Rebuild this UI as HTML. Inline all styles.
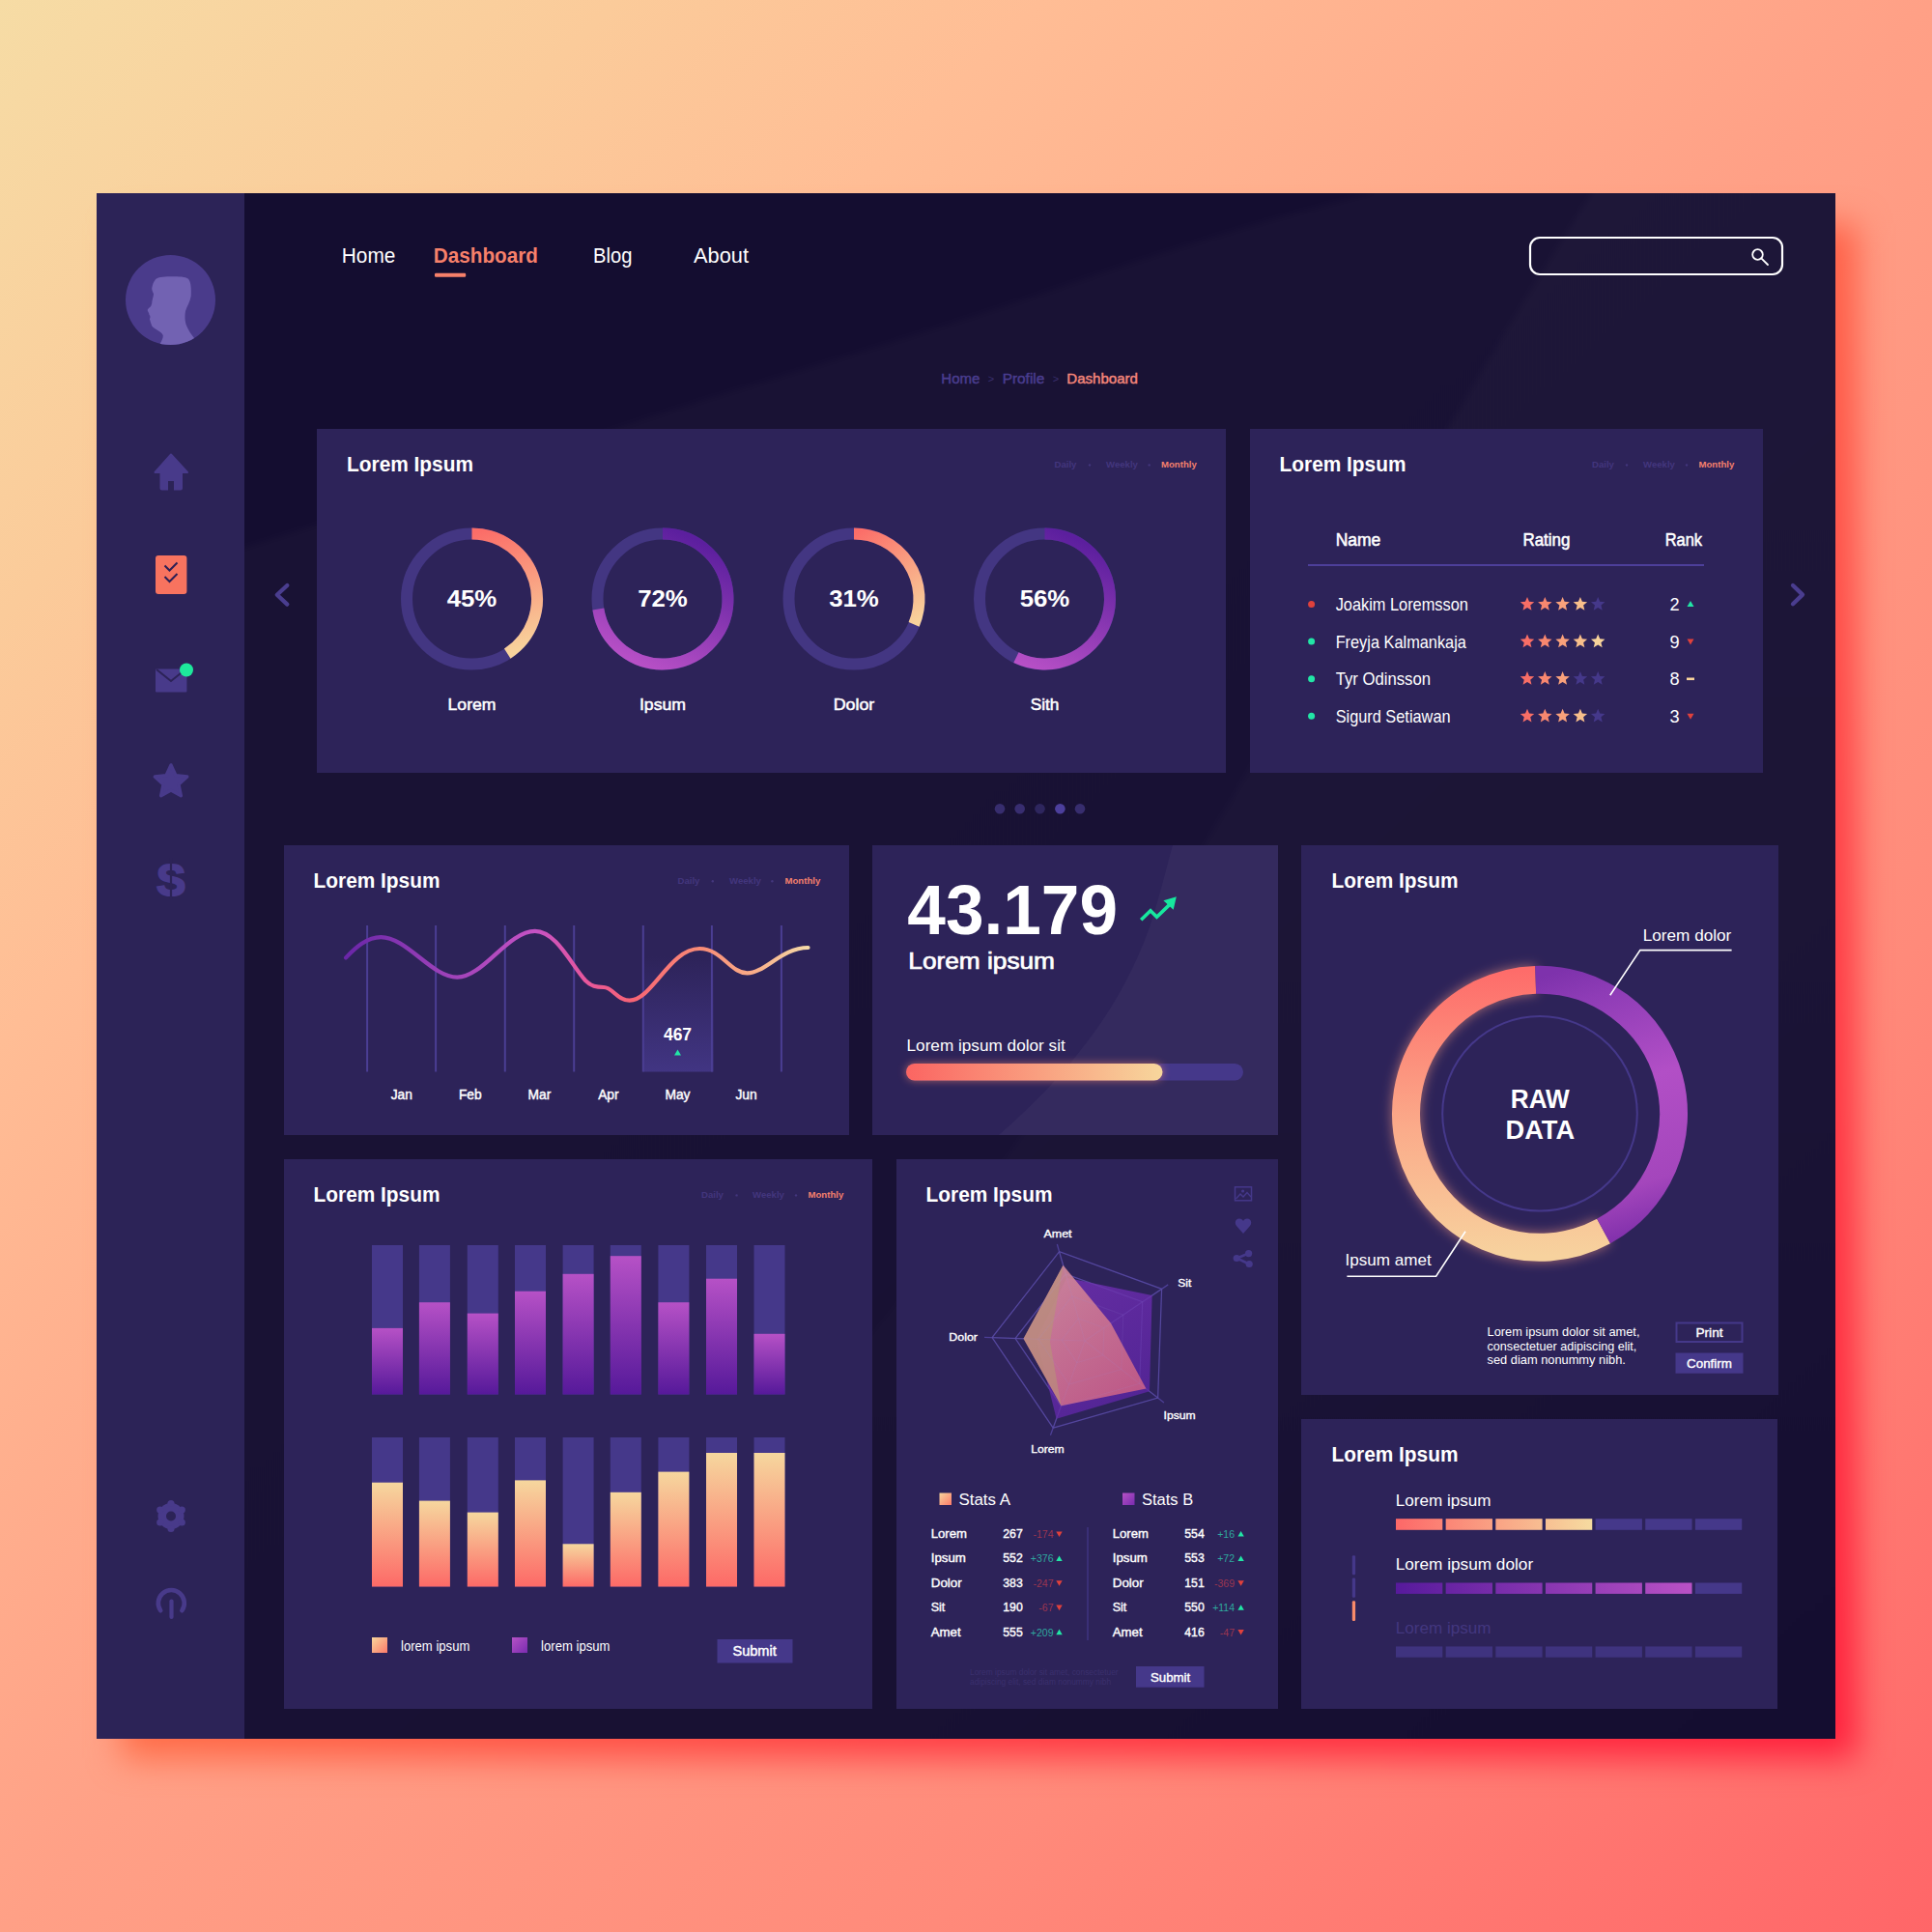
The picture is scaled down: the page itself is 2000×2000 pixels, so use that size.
<!DOCTYPE html>
<html><head><meta charset="utf-8">
<style>
html,body{margin:0;padding:0;}
body{width:2000px;height:2000px;overflow:hidden;position:relative;
background:linear-gradient(135deg,#f6dca5 0%,#fbcb9a 16%,#ffbd95 27%,#ffa086 50%,#ff8a7a 74%,#ff6668 100%);
font-family:"Liberation Sans",sans-serif;}
#shadow{position:absolute;left:126px;top:232px;width:1796px;height:1588px;background:linear-gradient(135deg,#ff9050 0%,#ff7048 45%,#ff4046 70%,#ff1e3c 100%);filter:blur(17px);}
#dash{position:absolute;left:100px;top:200px;width:1800px;height:1600px;background:#140d30;}
svg{position:absolute;left:0;top:0;}
text{font-family:"Liberation Sans",sans-serif;}
</style></head>
<body>
<div id="shadow"></div>
<div id="dash"></div>
<svg width="2000" height="2000" viewBox="0 0 2000 2000">
<defs>
<linearGradient id="gBarP" x1="0" y1="0" x2="0" y2="1"><stop offset="0" stop-color="#b651c6"/><stop offset="1" stop-color="#56199a"/></linearGradient>
<linearGradient id="gBarS" x1="0" y1="0" x2="0" y2="1"><stop offset="0" stop-color="#f6d79e"/><stop offset="1" stop-color="#fd6a67"/></linearGradient>
<linearGradient id="gProg" x1="0" y1="0" x2="1" y2="0"><stop offset="0" stop-color="#fb6562"/><stop offset="1" stop-color="#f7d69c"/></linearGradient>
<linearGradient id="gLegS" x1="0" y1="0" x2="1" y2="1"><stop offset="0" stop-color="#f7d69c"/><stop offset="1" stop-color="#fc7a6a"/></linearGradient>
<linearGradient id="gLegP" x1="0" y1="0" x2="1" y2="1"><stop offset="0" stop-color="#b652c6"/><stop offset="1" stop-color="#7a2cb0"/></linearGradient>
<linearGradient id="gHi" x1="0" y1="0" x2="0" y2="1"><stop offset="0" stop-color="#45388a" stop-opacity="0"/><stop offset="1" stop-color="#45388a" stop-opacity="0.85"/></linearGradient>
<linearGradient id="gLine" gradientUnits="userSpaceOnUse" x1="358" y1="0" x2="837" y2="0"><stop offset="0" stop-color="#6a26a8"/><stop offset="0.2" stop-color="#9a40b8"/><stop offset="0.41" stop-color="#c552c4"/><stop offset="0.52" stop-color="#e8579c"/><stop offset="0.62" stop-color="#f76474"/><stop offset="0.76" stop-color="#f98a76"/><stop offset="0.88" stop-color="#f9ac88"/><stop offset="1" stop-color="#f5dba8"/></linearGradient>
<filter id="glow" x="-20%" y="-50%" width="140%" height="200%"><feGaussianBlur stdDeviation="4"/></filter>
<filter id="glow2" x="-30%" y="-30%" width="160%" height="160%"><feGaussianBlur stdDeviation="6"/></filter>
<clipPath id="avClip"><circle cx="176.5" cy="310.5" r="46.5"/></clipPath>
</defs>
<rect x="253" y="200" width="1647" height="1600" fill="#140d30"/>
<rect x="100" y="200" width="153" height="1600" fill="#2c2357"/>
<linearGradient id="gOvA" gradientUnits="userSpaceOnUse" x1="900" y1="700" x2="1900" y2="1800"><stop offset="0" stop-color="#ffffff" stop-opacity="0.02"/><stop offset="0.55" stop-color="#ffffff" stop-opacity="0.016"/><stop offset="1" stop-color="#ffffff" stop-opacity="0"/></linearGradient>
<filter id="ovb" x="-10%" y="-10%" width="120%" height="120%"><feGaussianBlur stdDeviation="3"/></filter>
<clipPath id="mainClip"><rect x="253" y="200" width="1647" height="1600"/></clipPath>
<g clip-path="url(#mainClip)"><path filter="url(#ovb)" d="M1420 120 L2000 120 L2000 1900 L150 1900 L150 600 L253 567 C450 505 560 470 679 430 C820 385 960 345 1090 300 C1220 255 1320 225 1420 200Z" fill="url(#gOvA)"/>
<linearGradient id="gOv" gradientUnits="userSpaceOnUse" x1="0" y1="200" x2="0" y2="1800"><stop offset="0" stop-color="#ffffff" stop-opacity="0.022"/><stop offset="0.6" stop-color="#ffffff" stop-opacity="0.014"/><stop offset="1" stop-color="#ffffff" stop-opacity="0"/></linearGradient>
<path filter="url(#ovb)" d="M1700 120 L2000 120 L2000 1900 L480 1900 L560 1800 C760 1560 960 1320 1090 1130 C1260 870 1480 460 1648 200Z" fill="url(#gOv)"/></g>
<circle cx="176.5" cy="310.5" r="46.5" fill="#4a3b8b"/>
<path clip-path="url(#avClip)" fill="#7262b2" d="M160.5 289.9 C162 287 170 286 180 286.3 C188 286.3 194 287 195.5 289.5 C198 293 198 300 197.7 306.4 C197 312 193.6 316.8 192 322 C191 328 191.5 333 193 337 C195 342 198 346 201 350 L205 362 L163 362 L165.6 356.1 C168 352 169 349 168.7 347 C168 345 165 343 162.5 341.6 C159 339 157 338 156.9 336.4 C156 334 155.5 332 154.9 330.2 C155.5 329 155.5 328 155.3 327.1 C154.6 326 154 325 154.2 324 C153.5 323 152.5 321.5 152.8 320.5 C154 319 156 317.5 156.3 316.8 C157 315 157.5 313 157.3 312.6 C158 309 159 306 159 304.3 C158 302 157 300 157.3 298.1 C158 294 159 292 160.5 289.9 Z"/>
<path fill="#483a8a" stroke="#483a8a" stroke-width="2" stroke-linejoin="round" d="M160.5 489 L177 470.5 L194 489 Z"/>
<path fill="#483a8a" d="M165.5 484 L189 484 L189 505.5 Q189 507.5 187 507.5 L180 507.5 L180 498 L174 498 L174 507.5 L167.5 507.5 Q165.5 507.5 165.5 505.5 Z"/>
<rect x="161" y="575" width="32.4" height="40" rx="3" fill="#f8735f"/>
<path d="M170.5 585.5 L175.5 590.5 L183.5 582.5 M170.5 597 L175.5 602 L183.5 594" fill="none" stroke="#2b1f55" stroke-width="2"/>
<rect x="161" y="692.5" width="32.4" height="24" rx="1" fill="#483a8a"/>
<path d="M162 693 L177 705 L192 693" fill="none" stroke="#2c2357" stroke-width="2"/>
<circle cx="193" cy="693.5" r="7" fill="#1ee89c"/>
<polygon fill="#483a8a" points="177,791.9 181.94,802.7 193.74,804.06 184.99,812.1 187.35,823.74 177,817.9 166.65,823.74 169.01,812.1 160.26,804.06 172.06,802.7" stroke="#483a8a" stroke-width="3.4" stroke-linejoin="round"/>
<text x="177" y="926.5" font-size="46" font-weight="700" fill="#483a8a" stroke="#483a8a" stroke-width="2" text-anchor="middle">S</text>
<line x1="177" y1="888" x2="177" y2="931" stroke="#2c2357" stroke-width="2.2"/>
<g fill="#483a8a"><circle cx="177" cy="1569.5" r="13.5"/><circle cx="177" cy="1556.5" r="3.6"/><circle cx="188.26" cy="1563" r="3.6"/><circle cx="188.26" cy="1576" r="3.6"/><circle cx="177" cy="1582.5" r="3.6"/><circle cx="165.74" cy="1576" r="3.6"/><circle cx="165.74" cy="1563" r="3.6"/></g>
<circle cx="177" cy="1569.5" r="5" fill="#2c2357"/>
<path d="M166.24 1667.24 A13.5 13.5 0 1 1 188.36 1667.24" fill="none" stroke="#483a8a" stroke-width="4.6" stroke-linecap="round"/>
<line x1="177.5" y1="1657.5" x2="177.5" y2="1674" stroke="#483a8a" stroke-width="4.2" stroke-linecap="round"/>
<text x="353.77" y="271.5" font-size="21.5" fill="#ffffff" font-weight="400" text-anchor="start" textLength="55.56" lengthAdjust="spacingAndGlyphs" >Home</text>
<text x="448.87" y="271.5" font-size="21.5" fill="#f7806a" font-weight="700" text-anchor="start" textLength="107.96" lengthAdjust="spacingAndGlyphs" >Dashboard</text>
<text x="614.07" y="271.5" font-size="21.5" fill="#ffffff" font-weight="400" text-anchor="start" textLength="40.36" lengthAdjust="spacingAndGlyphs" >Blog</text>
<text x="718.07" y="271.5" font-size="21.5" fill="#ffffff" font-weight="400" text-anchor="start" textLength="56.96" lengthAdjust="spacingAndGlyphs" >About</text>
<rect x="450" y="282.8" width="32.2" height="4" rx="1.2" fill="#f7806a"/>
<rect x="1584" y="246" width="261" height="38" rx="10" fill="none" stroke="#ffffff" stroke-width="2.2"/>
<circle cx="1819.5" cy="263.5" r="5.3" fill="none" stroke="#fff" stroke-width="1.8"/>
<line x1="1823.3" y1="267.3" x2="1830" y2="274" stroke="#fff" stroke-width="1.8" stroke-linecap="round"/>
<text x="974.3" y="397" font-size="15" fill="#4a3d8f" font-weight="400" text-anchor="start" textLength="40" lengthAdjust="spacingAndGlyphs" stroke="#4a3d8f" stroke-width="0.45" >Home</text>
<text x="1026" y="396" font-size="11" fill="#3a2f6e" font-weight="400" text-anchor="middle" >&gt;</text>
<text x="1037.7" y="397" font-size="15" fill="#4a3d8f" font-weight="400" text-anchor="start" textLength="43.6" lengthAdjust="spacingAndGlyphs" stroke="#4a3d8f" stroke-width="0.45" >Profile</text>
<text x="1093" y="396" font-size="11" fill="#3a2f6e" font-weight="400" text-anchor="middle" >&gt;</text>
<text x="1104.3" y="397" font-size="15" fill="#f4867a" font-weight="400" text-anchor="start" textLength="73.7" lengthAdjust="spacingAndGlyphs" stroke="#f4867a" stroke-width="0.45" >Dashboard</text>
<rect x="328" y="444" width="941" height="356" fill="#2d2359"/>
<rect x="1294" y="444" width="531" height="356" fill="#2d2359"/>
<rect x="294" y="875" width="585" height="300" fill="#2d2359"/>
<rect x="903" y="875" width="420" height="300" fill="#2d2359"/>
<rect x="1347" y="875" width="494" height="569" fill="#2d2359"/>
<rect x="294" y="1200" width="609" height="569" fill="#2d2359"/>
<rect x="928" y="1200" width="395" height="569" fill="#2d2359"/>
<rect x="1347" y="1469" width="493" height="300" fill="#2d2359"/>
<path d="M1214 875 L1323 875 L1323 1175 L1034 1175 C1120 1100 1165 1030 1190 960 C1200 930 1207 900 1214 875Z" fill="#ffffff" fill-opacity="0.035"/>
<text x="359.07" y="488" font-size="21.5" fill="#ffffff" font-weight="700" text-anchor="start" textLength="130.86" lengthAdjust="spacingAndGlyphs" >Lorem Ipsum</text>
<text x="1324.57" y="488" font-size="21.5" fill="#ffffff" font-weight="700" text-anchor="start" textLength="130.86" lengthAdjust="spacingAndGlyphs" >Lorem Ipsum</text>
<text x="324.57" y="918.5" font-size="21.5" fill="#ffffff" font-weight="700" text-anchor="start" textLength="130.86" lengthAdjust="spacingAndGlyphs" >Lorem Ipsum</text>
<text x="1378.57" y="919" font-size="21.5" fill="#ffffff" font-weight="700" text-anchor="start" textLength="130.86" lengthAdjust="spacingAndGlyphs" >Lorem Ipsum</text>
<text x="324.57" y="1244" font-size="21.5" fill="#ffffff" font-weight="700" text-anchor="start" textLength="130.86" lengthAdjust="spacingAndGlyphs" >Lorem Ipsum</text>
<text x="958.57" y="1243.5" font-size="21.5" fill="#ffffff" font-weight="700" text-anchor="start" textLength="130.86" lengthAdjust="spacingAndGlyphs" >Lorem Ipsum</text>
<text x="1378.57" y="1512.5" font-size="21.5" fill="#ffffff" font-weight="700" text-anchor="start" textLength="130.86" lengthAdjust="spacingAndGlyphs" >Lorem Ipsum</text>
<text x="1091.5" y="484.4" font-size="9.6" fill="#43367d" font-weight="700" text-anchor="start" >Daily</text>
<text x="1145" y="484.4" font-size="9.6" fill="#43367d" font-weight="700" text-anchor="start" >Weekly</text>
<text x="1202" y="484.4" font-size="9.6" fill="#f4806d" font-weight="700" text-anchor="start" >Monthly</text>
<circle cx="1128" cy="481.4" r="1.2" fill="#43367d"/><circle cx="1189.7" cy="481.4" r="1.2" fill="#43367d"/>
<text x="1648" y="484.4" font-size="9.6" fill="#43367d" font-weight="700" text-anchor="start" >Daily</text>
<text x="1701" y="484.4" font-size="9.6" fill="#43367d" font-weight="700" text-anchor="start" >Weekly</text>
<text x="1758.5" y="484.4" font-size="9.6" fill="#f4806d" font-weight="700" text-anchor="start" >Monthly</text>
<circle cx="1684" cy="481.4" r="1.2" fill="#43367d"/><circle cx="1746" cy="481.4" r="1.2" fill="#43367d"/>
<text x="701.5" y="915.2" font-size="9.6" fill="#43367d" font-weight="700" text-anchor="start" >Daily</text>
<text x="755" y="915.2" font-size="9.6" fill="#43367d" font-weight="700" text-anchor="start" >Weekly</text>
<text x="812.5" y="915.2" font-size="9.6" fill="#f4806d" font-weight="700" text-anchor="start" >Monthly</text>
<circle cx="737.8" cy="912.2" r="1.2" fill="#43367d"/><circle cx="799.4" cy="912.2" r="1.2" fill="#43367d"/>
<text x="726" y="1240.4" font-size="9.6" fill="#43367d" font-weight="700" text-anchor="start" >Daily</text>
<text x="779" y="1240.4" font-size="9.6" fill="#43367d" font-weight="700" text-anchor="start" >Weekly</text>
<text x="836.5" y="1240.4" font-size="9.6" fill="#f4806d" font-weight="700" text-anchor="start" >Monthly</text>
<circle cx="762.6" cy="1237.4" r="1.2" fill="#43367d"/><circle cx="824" cy="1237.4" r="1.2" fill="#43367d"/>
<circle cx="488.5" cy="620" r="67.5" fill="none" stroke="#433682" stroke-width="12"/>
<linearGradient id="gd0" gradientUnits="userSpaceOnUse" x1="488.5" y1="552.5" x2="525.26" y2="676.61"><stop offset="0" stop-color="#fb6d68"/><stop offset="1" stop-color="#f8d39c"/></linearGradient>
<path d="M488.5 552.5 A67.5 67.5 0 0 1 525.26 676.61" fill="none" stroke="url(#gd0)" stroke-width="12"/>
<text x="488.5" y="628" font-size="24.7" fill="#ffffff" font-weight="700" text-anchor="middle" textLength="51.69" lengthAdjust="spacingAndGlyphs" >45%</text>
<text x="488.5" y="735" font-size="17.4" fill="#ffffff" font-weight="400" text-anchor="middle" textLength="49.9" lengthAdjust="spacingAndGlyphs" stroke="#ffffff" stroke-width="0.52" >Lorem</text>
<circle cx="686" cy="620" r="67.5" fill="none" stroke="#433682" stroke-width="12"/>
<linearGradient id="gd1" gradientUnits="userSpaceOnUse" x1="706" y1="552.5" x2="646" y2="687.5"><stop offset="0" stop-color="#5c1f9e"/><stop offset="1" stop-color="#bb52c8"/></linearGradient>
<path d="M686 552.5 A67.5 67.5 0 1 1 619.33 630.56" fill="none" stroke="url(#gd1)" stroke-width="12"/>
<text x="686" y="628" font-size="24.7" fill="#ffffff" font-weight="700" text-anchor="middle" textLength="51.69" lengthAdjust="spacingAndGlyphs" >72%</text>
<text x="686" y="735" font-size="17.4" fill="#ffffff" font-weight="400" text-anchor="middle" textLength="48.1" lengthAdjust="spacingAndGlyphs" stroke="#ffffff" stroke-width="0.52" >Ipsum</text>
<circle cx="884" cy="620" r="67.5" fill="none" stroke="#433682" stroke-width="12"/>
<linearGradient id="gd2" gradientUnits="userSpaceOnUse" x1="884" y1="552.5" x2="946.13" y2="646.37"><stop offset="0" stop-color="#fb6d68"/><stop offset="1" stop-color="#f8d39c"/></linearGradient>
<path d="M884 552.5 A67.5 67.5 0 0 1 946.13 646.37" fill="none" stroke="url(#gd2)" stroke-width="12"/>
<text x="884" y="628" font-size="24.7" fill="#ffffff" font-weight="700" text-anchor="middle" textLength="51.69" lengthAdjust="spacingAndGlyphs" >31%</text>
<text x="884" y="735" font-size="17.4" fill="#ffffff" font-weight="400" text-anchor="middle" textLength="42.6" lengthAdjust="spacingAndGlyphs" stroke="#ffffff" stroke-width="0.52" >Dolor</text>
<circle cx="1081.5" cy="620" r="67.5" fill="none" stroke="#433682" stroke-width="12"/>
<linearGradient id="gd3" gradientUnits="userSpaceOnUse" x1="1101.5" y1="552.5" x2="1041.5" y2="687.5"><stop offset="0" stop-color="#5c1f9e"/><stop offset="1" stop-color="#bb52c8"/></linearGradient>
<path d="M1081.5 552.5 A67.5 67.5 0 1 1 1051.91 680.67" fill="none" stroke="url(#gd3)" stroke-width="12"/>
<text x="1081.5" y="628" font-size="24.7" fill="#ffffff" font-weight="700" text-anchor="middle" textLength="51.69" lengthAdjust="spacingAndGlyphs" >56%</text>
<text x="1081.5" y="735" font-size="17.4" fill="#ffffff" font-weight="400" text-anchor="middle" textLength="29.7" lengthAdjust="spacingAndGlyphs" stroke="#ffffff" stroke-width="0.52" >Sith</text>
<text x="1382.64" y="564.8" font-size="18" fill="#ffffff" font-weight="400" text-anchor="start" textLength="46.72" lengthAdjust="spacingAndGlyphs" stroke="#ffffff" stroke-width="0.54" >Name</text>
<text x="1576.44" y="564.8" font-size="18" fill="#ffffff" font-weight="400" text-anchor="start" textLength="49.02" lengthAdjust="spacingAndGlyphs" stroke="#ffffff" stroke-width="0.54" >Rating</text>
<text x="1723.64" y="564.8" font-size="18" fill="#ffffff" font-weight="400" text-anchor="start" textLength="38.42" lengthAdjust="spacingAndGlyphs" stroke="#ffffff" stroke-width="0.54" >Rank</text>
<line x1="1354" y1="585" x2="1764" y2="585" stroke="#4d3f9a" stroke-width="2"/>
<circle cx="1357.6" cy="625.5" r="3.5" fill="#e0413c"/>
<text x="1382.64" y="632" font-size="18.2" fill="#ffffff" font-weight="400" text-anchor="start" textLength="137.23" lengthAdjust="spacingAndGlyphs" >Joakim Loremsson</text>
<polygon points="1581,617.9 1583,622.75 1588.23,623.15 1584.23,626.55 1585.47,631.65 1581,628.9 1576.53,631.65 1577.77,626.55 1573.77,623.15 1579,622.75" fill="#f86e66"/>
<polygon points="1599.3,617.9 1601.3,622.75 1606.53,623.15 1602.53,626.55 1603.77,631.65 1599.3,628.9 1594.83,631.65 1596.07,626.55 1592.07,623.15 1597.3,622.75" fill="#f8876f"/>
<polygon points="1617.6,617.9 1619.6,622.75 1624.83,623.15 1620.83,626.55 1622.07,631.65 1617.6,628.9 1613.13,631.65 1614.37,626.55 1610.37,623.15 1615.6,622.75" fill="#f9a17b"/>
<polygon points="1635.9,617.9 1637.9,622.75 1643.13,623.15 1639.13,626.55 1640.37,631.65 1635.9,628.9 1631.43,631.65 1632.67,626.55 1628.67,623.15 1633.9,622.75" fill="#f8bf8b"/>
<polygon points="1654.2,617.9 1656.2,622.75 1661.43,623.15 1657.43,626.55 1658.67,631.65 1654.2,628.9 1649.73,631.65 1650.97,626.55 1646.97,623.15 1652.2,622.75" fill="#45388a"/>
<text x="1728.4" y="632" font-size="18.2" fill="#ffffff" font-weight="400" text-anchor="start" >2</text>
<polygon points="1746.5,628 1753.5,628 1750,622" fill="#22e6a6"/>
<circle cx="1357.6" cy="664.1" r="3.5" fill="#22e6a6"/>
<text x="1382.64" y="670.6" font-size="18.2" fill="#ffffff" font-weight="400" text-anchor="start" textLength="135.23" lengthAdjust="spacingAndGlyphs" >Freyja Kalmankaja</text>
<polygon points="1581,656.5 1583,661.35 1588.23,661.75 1584.23,665.15 1585.47,670.25 1581,667.5 1576.53,670.25 1577.77,665.15 1573.77,661.75 1579,661.35" fill="#f86e66"/>
<polygon points="1599.3,656.5 1601.3,661.35 1606.53,661.75 1602.53,665.15 1603.77,670.25 1599.3,667.5 1594.83,670.25 1596.07,665.15 1592.07,661.75 1597.3,661.35" fill="#f8876f"/>
<polygon points="1617.6,656.5 1619.6,661.35 1624.83,661.75 1620.83,665.15 1622.07,670.25 1617.6,667.5 1613.13,670.25 1614.37,665.15 1610.37,661.75 1615.6,661.35" fill="#f9a17b"/>
<polygon points="1635.9,656.5 1637.9,661.35 1643.13,661.75 1639.13,665.15 1640.37,670.25 1635.9,667.5 1631.43,670.25 1632.67,665.15 1628.67,661.75 1633.9,661.35" fill="#f8bf8b"/>
<polygon points="1654.2,656.5 1656.2,661.35 1661.43,661.75 1657.43,665.15 1658.67,670.25 1654.2,667.5 1649.73,670.25 1650.97,665.15 1646.97,661.75 1652.2,661.35" fill="#f7d39b"/>
<text x="1728.4" y="670.6" font-size="18.2" fill="#ffffff" font-weight="400" text-anchor="start" >9</text>
<polygon points="1746.5,661.6 1753.5,661.6 1750,667.6" fill="#e0413c"/>
<circle cx="1357.6" cy="702.7" r="3.5" fill="#22e6a6"/>
<text x="1382.64" y="709.2" font-size="18.2" fill="#ffffff" font-weight="400" text-anchor="start" textLength="98.33" lengthAdjust="spacingAndGlyphs" >Tyr Odinsson</text>
<polygon points="1581,695.1 1583,699.95 1588.23,700.35 1584.23,703.75 1585.47,708.85 1581,706.1 1576.53,708.85 1577.77,703.75 1573.77,700.35 1579,699.95" fill="#f86e66"/>
<polygon points="1599.3,695.1 1601.3,699.95 1606.53,700.35 1602.53,703.75 1603.77,708.85 1599.3,706.1 1594.83,708.85 1596.07,703.75 1592.07,700.35 1597.3,699.95" fill="#f8876f"/>
<polygon points="1617.6,695.1 1619.6,699.95 1624.83,700.35 1620.83,703.75 1622.07,708.85 1617.6,706.1 1613.13,708.85 1614.37,703.75 1610.37,700.35 1615.6,699.95" fill="#f9a17b"/>
<polygon points="1635.9,695.1 1637.9,699.95 1643.13,700.35 1639.13,703.75 1640.37,708.85 1635.9,706.1 1631.43,708.85 1632.67,703.75 1628.67,700.35 1633.9,699.95" fill="#45388a"/>
<polygon points="1654.2,695.1 1656.2,699.95 1661.43,700.35 1657.43,703.75 1658.67,708.85 1654.2,706.1 1649.73,708.85 1650.97,703.75 1646.97,700.35 1652.2,699.95" fill="#45388a"/>
<text x="1728.4" y="709.2" font-size="18.2" fill="#ffffff" font-weight="400" text-anchor="start" >8</text>
<rect x="1746" y="701.5" width="8" height="2.6" fill="#f8d39b"/>
<circle cx="1357.6" cy="741.3" r="3.5" fill="#22e6a6"/>
<text x="1382.64" y="747.8" font-size="18.2" fill="#ffffff" font-weight="400" text-anchor="start" textLength="118.93" lengthAdjust="spacingAndGlyphs" >Sigurd Setiawan</text>
<polygon points="1581,733.7 1583,738.55 1588.23,738.95 1584.23,742.35 1585.47,747.45 1581,744.7 1576.53,747.45 1577.77,742.35 1573.77,738.95 1579,738.55" fill="#f86e66"/>
<polygon points="1599.3,733.7 1601.3,738.55 1606.53,738.95 1602.53,742.35 1603.77,747.45 1599.3,744.7 1594.83,747.45 1596.07,742.35 1592.07,738.95 1597.3,738.55" fill="#f8876f"/>
<polygon points="1617.6,733.7 1619.6,738.55 1624.83,738.95 1620.83,742.35 1622.07,747.45 1617.6,744.7 1613.13,747.45 1614.37,742.35 1610.37,738.95 1615.6,738.55" fill="#f9a17b"/>
<polygon points="1635.9,733.7 1637.9,738.55 1643.13,738.95 1639.13,742.35 1640.37,747.45 1635.9,744.7 1631.43,747.45 1632.67,742.35 1628.67,738.95 1633.9,738.55" fill="#f8bf8b"/>
<polygon points="1654.2,733.7 1656.2,738.55 1661.43,738.95 1657.43,742.35 1658.67,747.45 1654.2,744.7 1649.73,747.45 1650.97,742.35 1646.97,738.95 1652.2,738.55" fill="#45388a"/>
<text x="1728.4" y="747.8" font-size="18.2" fill="#ffffff" font-weight="400" text-anchor="start" >3</text>
<polygon points="1746.5,738.8 1753.5,738.8 1750,744.8" fill="#e0413c"/>
<path d="M297.3 606 L286.8 615.8 L297.3 625.6" fill="none" stroke="#4a3d8f" stroke-width="4.3" stroke-linecap="round" stroke-linejoin="round"/>
<path d="M1856 606 L1866 615.6 L1856 625.3" fill="none" stroke="#4a3d8f" stroke-width="4.3" stroke-linecap="round" stroke-linejoin="round"/>
<circle cx="1035" cy="837.2" r="5.3" fill="#372d6e"/>
<circle cx="1055.7" cy="837.2" r="5.3" fill="#382d70"/>
<circle cx="1076.5" cy="837.2" r="5.3" fill="#2e265e"/>
<circle cx="1097.4" cy="837.2" r="5.3" fill="#4c3f9c"/>
<circle cx="1118" cy="837.2" r="5.3" fill="#372d6e"/>
<rect x="665.5" y="990" width="73" height="119.5" fill="url(#gHi)"/>
<line x1="380.1" y1="958" x2="380.1" y2="1109.5" stroke="#4b3e93" stroke-width="2"/>
<line x1="451.1" y1="958" x2="451.1" y2="1109.5" stroke="#4b3e93" stroke-width="2"/>
<line x1="522.8" y1="958" x2="522.8" y2="1109.5" stroke="#4b3e93" stroke-width="2"/>
<line x1="594.2" y1="958" x2="594.2" y2="1109.5" stroke="#4b3e93" stroke-width="2"/>
<line x1="665.8" y1="958" x2="665.8" y2="1109.5" stroke="#4b3e93" stroke-width="2"/>
<line x1="736.9" y1="958" x2="736.9" y2="1109.5" stroke="#4b3e93" stroke-width="2"/>
<line x1="808.9" y1="958" x2="808.9" y2="1109.5" stroke="#4b3e93" stroke-width="2"/>
<path d="M358.1 991.4 C368 981 380 970.1 394.3 970.1 C421 970.1 447 1011.7 473.3 1011.7 C500 1011.7 526 963.9 553.8 963.9 C576 963.9 592 1000 606 1015 C612 1021 617 1022 625 1022 C634 1022 639 1035.7 651.7 1035.7 C675 1035.7 693 982 724.2 982 C747 982 756 1007.4 773.5 1007.4 C792 1007.4 809 981 836.5 981" fill="none" stroke="url(#gLine)" stroke-width="4.2" stroke-linecap="round"/>
<text x="701.5" y="1077.3" font-size="17.5" fill="#ffffff" font-weight="700" text-anchor="middle" textLength="29.1" lengthAdjust="spacingAndGlyphs" >467</text>
<polygon points="698,1092.5 705,1092.5 701.5,1086.5" fill="#22e6a6"/>
<text x="415.8" y="1138" font-size="13.8" fill="#ffffff" font-weight="400" text-anchor="middle" stroke="#ffffff" stroke-width="0.41" >Jan</text>
<text x="486.8" y="1138" font-size="13.8" fill="#ffffff" font-weight="400" text-anchor="middle" stroke="#ffffff" stroke-width="0.41" >Feb</text>
<text x="558.5" y="1138" font-size="13.8" fill="#ffffff" font-weight="400" text-anchor="middle" stroke="#ffffff" stroke-width="0.41" >Mar</text>
<text x="629.9" y="1138" font-size="13.8" fill="#ffffff" font-weight="400" text-anchor="middle" stroke="#ffffff" stroke-width="0.41" >Apr</text>
<text x="701.5" y="1138" font-size="13.8" fill="#ffffff" font-weight="400" text-anchor="middle" stroke="#ffffff" stroke-width="0.41" >May</text>
<text x="772.6" y="1138" font-size="13.8" fill="#ffffff" font-weight="400" text-anchor="middle" stroke="#ffffff" stroke-width="0.41" >Jun</text>
<text x="939.37" y="967.2" font-size="71.6" fill="#ffffff" font-weight="700" text-anchor="start" textLength="217.66" lengthAdjust="spacingAndGlyphs" >43.179</text>
<polyline points="1181.2,952.2 1191,942.8 1197.5,949.3 1210.6,936.6" fill="none" stroke="#17e89e" stroke-width="3.6"/>
<polygon points="1204.4,932.2 1217.8,928.3 1214.7,941.7" fill="#17e89e"/>
<text x="940.31" y="1002.6" font-size="24.4" fill="#ffffff" font-weight="400" text-anchor="start" textLength="151.68" lengthAdjust="spacingAndGlyphs" stroke="#ffffff" stroke-width="0.73" >Lorem ipsum</text>
<text x="938.56" y="1088.3" font-size="17" fill="#ffffff" font-weight="400" text-anchor="start" textLength="164.18" lengthAdjust="spacingAndGlyphs" >Lorem ipsum dolor sit</text>
<rect x="938" y="1101" width="349" height="17.5" rx="8.75" fill="#45388a"/>
<rect x="938" y="1101" width="265.5" height="17.5" rx="8.75" fill="#fb8a70" opacity="0.6" filter="url(#glow)"/>
<rect x="938" y="1101" width="265.5" height="17.5" rx="8.75" fill="url(#gProg)"/>
<rect x="385" y="1289" width="32" height="154.5" fill="#45388a"/>
<rect x="385" y="1374.9" width="32" height="68.6" fill="url(#gBarP)"/>
<rect x="433.9" y="1289" width="32" height="154.5" fill="#45388a"/>
<rect x="433.9" y="1348.2" width="32" height="95.3" fill="url(#gBarP)"/>
<rect x="483.8" y="1289" width="32" height="154.5" fill="#45388a"/>
<rect x="483.8" y="1359.6" width="32" height="83.9" fill="url(#gBarP)"/>
<rect x="533" y="1289" width="32" height="154.5" fill="#45388a"/>
<rect x="533" y="1336.7" width="32" height="106.8" fill="url(#gBarP)"/>
<rect x="582.6" y="1289" width="32" height="154.5" fill="#45388a"/>
<rect x="582.6" y="1318.8" width="32" height="124.7" fill="url(#gBarP)"/>
<rect x="631.8" y="1289" width="32" height="154.5" fill="#45388a"/>
<rect x="631.8" y="1300.2" width="32" height="143.3" fill="url(#gBarP)"/>
<rect x="681.4" y="1289" width="32" height="154.5" fill="#45388a"/>
<rect x="681.4" y="1348.2" width="32" height="95.3" fill="url(#gBarP)"/>
<rect x="731" y="1289" width="32" height="154.5" fill="#45388a"/>
<rect x="731" y="1323.7" width="32" height="119.8" fill="url(#gBarP)"/>
<rect x="780.5" y="1289" width="32" height="154.5" fill="#45388a"/>
<rect x="780.5" y="1380.8" width="32" height="62.7" fill="url(#gBarP)"/>
<rect x="385" y="1488" width="32" height="154.5" fill="#45388a"/>
<rect x="385" y="1534.7" width="32" height="107.8" fill="url(#gBarS)"/>
<rect x="433.9" y="1488" width="32" height="154.5" fill="#45388a"/>
<rect x="433.9" y="1553.6" width="32" height="88.9" fill="url(#gBarS)"/>
<rect x="483.8" y="1488" width="32" height="154.5" fill="#45388a"/>
<rect x="483.8" y="1565.6" width="32" height="76.9" fill="url(#gBarS)"/>
<rect x="533" y="1488" width="32" height="154.5" fill="#45388a"/>
<rect x="533" y="1532.4" width="32" height="110.1" fill="url(#gBarS)"/>
<rect x="582.6" y="1488" width="32" height="154.5" fill="#45388a"/>
<rect x="582.6" y="1598.3" width="32" height="44.2" fill="url(#gBarS)"/>
<rect x="631.8" y="1488" width="32" height="154.5" fill="#45388a"/>
<rect x="631.8" y="1544.8" width="32" height="97.7" fill="url(#gBarS)"/>
<rect x="681.4" y="1488" width="32" height="154.5" fill="#45388a"/>
<rect x="681.4" y="1523.6" width="32" height="118.9" fill="url(#gBarS)"/>
<rect x="731" y="1488" width="32" height="154.5" fill="#45388a"/>
<rect x="731" y="1504" width="32" height="138.5" fill="url(#gBarS)"/>
<rect x="780.5" y="1488" width="32" height="154.5" fill="#45388a"/>
<rect x="780.5" y="1504" width="32" height="138.5" fill="url(#gBarS)"/>
<rect x="385" y="1695" width="16" height="16" fill="url(#gLegS)"/>
<text x="415.02" y="1708.5" font-size="14" fill="#ffffff" font-weight="400" text-anchor="start" textLength="71.36" lengthAdjust="spacingAndGlyphs" >lorem ipsum</text>
<rect x="530" y="1695" width="16" height="16" fill="url(#gLegP)"/>
<text x="560.12" y="1708.5" font-size="14" fill="#ffffff" font-weight="400" text-anchor="start" textLength="71.36" lengthAdjust="spacingAndGlyphs" >lorem ipsum</text>
<rect x="742.5" y="1697" width="78" height="24.5" fill="#45388a"/>
<text x="781.1" y="1714" font-size="15" fill="#ffffff" font-weight="400" text-anchor="middle" textLength="45.3" lengthAdjust="spacingAndGlyphs" stroke="#ffffff" stroke-width="0.45" >Submit</text>
<polygon points="1096.54,1295.72 1202.59,1334.32 1198.65,1447.1 1090.17,1478.21 1027.06,1384.65" fill="none" stroke="#4d3f96" stroke-width="1.3"/>
<polygon points="1103.15,1318.79 1182.69,1347.74 1179.74,1432.33 1098.37,1455.66 1051.04,1385.49" fill="none" stroke="#4d3f96" stroke-width="1.3"/>
<line x1="1123" y1="1388" x2="1094.33" y2="1288.03" stroke="#4d3f96" stroke-width="1.3"/>
<line x1="1123" y1="1388" x2="1209.22" y2="1329.84" stroke="#4d3f96" stroke-width="1.3"/>
<line x1="1123" y1="1388" x2="1204.95" y2="1452.03" stroke="#4d3f96" stroke-width="1.3"/>
<line x1="1123" y1="1388" x2="1087.43" y2="1485.73" stroke="#4d3f96" stroke-width="1.3"/>
<line x1="1123" y1="1388" x2="1019.06" y2="1384.37" stroke="#4d3f96" stroke-width="1.3"/>
<linearGradient id="gRadP" gradientUnits="userSpaceOnUse" x1="1110" y1="1320" x2="1190" y2="1460"><stop offset="0" stop-color="#6a2eaa"/><stop offset="1" stop-color="#55249a"/></linearGradient>
<polygon points="1104.26,1322.63 1192.64,1341.03 1189.98,1440.33 1093.59,1468.81 1073.03,1386.26" fill="url(#gRadP)" fill-opacity="0.9"/>
<linearGradient id="gRad" gradientUnits="userSpaceOnUse" x1="1070" y1="1310" x2="1185" y2="1455"><stop offset="0" stop-color="#d48e9c"/><stop offset="1" stop-color="#c85a84"/></linearGradient>
<polygon points="1100.54,1309.66 1149.94,1369.83 1186.43,1437.56 1098.55,1455.19 1059.54,1385.78" fill="url(#gRad)" fill-opacity="0.9"/>
<polygon points="1100.54,1309.66 1059.54,1385.78 1098.55,1455.19 1087,1389" fill="#b89478" fill-opacity="0.6"/>
<polygon points="1096.54,1295.72 1202.59,1334.32 1198.65,1447.1 1090.17,1478.21 1027.06,1384.65" fill="none" stroke="#a090e0" stroke-opacity="0.1" stroke-width="1.1"/>
<polygon points="1103.15,1318.79 1182.69,1347.74 1179.74,1432.33 1098.37,1455.66 1051.04,1385.49" fill="none" stroke="#a090e0" stroke-opacity="0.1" stroke-width="1.1"/>
<polygon points="1109.77,1341.86 1162.79,1361.16 1160.82,1417.55 1106.58,1433.11 1075.03,1386.32" fill="none" stroke="#a090e0" stroke-opacity="0.1" stroke-width="1.1"/>
<polygon points="1116.38,1364.93 1142.9,1374.58 1141.91,1402.78 1114.79,1410.55 1099.01,1387.16" fill="none" stroke="#a090e0" stroke-opacity="0.1" stroke-width="1.1"/>
<line x1="1123" y1="1388" x2="1096.54" y2="1295.72" stroke="#a090e0" stroke-opacity="0.1" stroke-width="1.1"/>
<line x1="1123" y1="1388" x2="1202.59" y2="1334.32" stroke="#a090e0" stroke-opacity="0.1" stroke-width="1.1"/>
<line x1="1123" y1="1388" x2="1198.65" y2="1447.1" stroke="#a090e0" stroke-opacity="0.1" stroke-width="1.1"/>
<line x1="1123" y1="1388" x2="1090.17" y2="1478.21" stroke="#a090e0" stroke-opacity="0.1" stroke-width="1.1"/>
<line x1="1123" y1="1388" x2="1027.06" y2="1384.65" stroke="#a090e0" stroke-opacity="0.1" stroke-width="1.1"/>
<text x="1095" y="1281" font-size="11.5" fill="#ffffff" font-weight="400" text-anchor="middle" textLength="29.06" lengthAdjust="spacingAndGlyphs" stroke="#ffffff" stroke-width="0.35" >Amet</text>
<text x="1219.37" y="1331.7" font-size="11.5" fill="#ffffff" font-weight="400" text-anchor="start" textLength="13.96" lengthAdjust="spacingAndGlyphs" stroke="#ffffff" stroke-width="0.35" >Sit</text>
<text x="982.37" y="1387.8" font-size="11.5" fill="#ffffff" font-weight="400" text-anchor="start" textLength="29.56" lengthAdjust="spacingAndGlyphs" stroke="#ffffff" stroke-width="0.35" >Dolor</text>
<text x="1204.57" y="1468.7" font-size="11.5" fill="#ffffff" font-weight="400" text-anchor="start" textLength="33.06" lengthAdjust="spacingAndGlyphs" stroke="#ffffff" stroke-width="0.35" >Ipsum</text>
<text x="1084.5" y="1504" font-size="11.5" fill="#ffffff" font-weight="400" text-anchor="middle" textLength="34.56" lengthAdjust="spacingAndGlyphs" stroke="#ffffff" stroke-width="0.35" >Lorem</text>
<rect x="1278.5" y="1228.8" width="17" height="14" fill="none" stroke="#45388a" stroke-width="1.5"/>
<path d="M1279.5 1241 L1284 1236 L1287 1239 L1291 1234.5 L1295 1239" fill="none" stroke="#45388a" stroke-width="1.4"/>
<circle cx="1286.6" cy="1233" r="1.6" fill="#45388a"/>
<path fill="#45388a" d="M1287 1277 L1280 1269 C1277.5 1266 1279 1261.5 1283 1261.5 C1285 1261.5 1286.3 1262.7 1287 1264 C1287.7 1262.7 1289 1261.5 1291 1261.5 C1295 1261.5 1296.5 1266 1294 1269 Z"/>
<g stroke="#45388a" stroke-width="2.6" fill="#45388a"><line x1="1280.5" y1="1302.5" x2="1292.5" y2="1297.5"/><line x1="1280.5" y1="1302.5" x2="1293" y2="1308.5"/></g>
<g fill="#45388a"><circle cx="1292.6" cy="1297.6" r="3.6"/><circle cx="1280.2" cy="1302.5" r="3.6"/><circle cx="1293.2" cy="1308.5" r="3.6"/></g>
<rect x="972.5" y="1545.5" width="12.5" height="12.5" fill="url(#gLegS)"/>
<text x="992.45" y="1558" font-size="17.4" fill="#ffffff" font-weight="400" text-anchor="start" textLength="53.6" lengthAdjust="spacingAndGlyphs" >Stats A</text>
<rect x="1162" y="1545.5" width="12.5" height="12.5" fill="url(#gLegP)"/>
<text x="1182.05" y="1558" font-size="17.4" fill="#ffffff" font-weight="400" text-anchor="start" textLength="53.1" lengthAdjust="spacingAndGlyphs" >Stats B</text>
<line x1="1126" y1="1581" x2="1126" y2="1698" stroke="#3f3480" stroke-width="1.5"/>
<text x="963.75" y="1592" font-size="12.6" fill="#ffffff" font-weight="400" text-anchor="start" textLength="37.2" lengthAdjust="spacingAndGlyphs" stroke="#ffffff" stroke-width="0.38" >Lorem</text>
<text x="1038.25" y="1592" font-size="12.6" fill="#ffffff" font-weight="400" text-anchor="start" textLength="20.5" lengthAdjust="spacingAndGlyphs" stroke="#ffffff" stroke-width="0.38" >267</text>
<text x="1090.5" y="1592" font-size="10.5" fill="#9c3650" font-weight="400" text-anchor="end" >-174</text>
<polygon points="1093.3,1585.4 1099.7,1585.4 1096.5,1591" fill="#e0413c"/>
<text x="963.75" y="1617.4" font-size="12.6" fill="#ffffff" font-weight="400" text-anchor="start" textLength="36.2" lengthAdjust="spacingAndGlyphs" stroke="#ffffff" stroke-width="0.38" >Ipsum</text>
<text x="1038.25" y="1617.4" font-size="12.6" fill="#ffffff" font-weight="400" text-anchor="start" textLength="20.5" lengthAdjust="spacingAndGlyphs" stroke="#ffffff" stroke-width="0.38" >552</text>
<text x="1090.5" y="1617.4" font-size="10.5" fill="#2fa89e" font-weight="400" text-anchor="end" >+376</text>
<polygon points="1093.3,1616 1099.7,1616 1096.5,1610.4" fill="#22e6a6"/>
<text x="963.75" y="1642.8" font-size="12.6" fill="#ffffff" font-weight="400" text-anchor="start" textLength="32" lengthAdjust="spacingAndGlyphs" stroke="#ffffff" stroke-width="0.38" >Dolor</text>
<text x="1038.25" y="1642.8" font-size="12.6" fill="#ffffff" font-weight="400" text-anchor="start" textLength="20.5" lengthAdjust="spacingAndGlyphs" stroke="#ffffff" stroke-width="0.38" >383</text>
<text x="1090.5" y="1642.8" font-size="10.5" fill="#9c3650" font-weight="400" text-anchor="end" >-247</text>
<polygon points="1093.3,1636.2 1099.7,1636.2 1096.5,1641.8" fill="#e0413c"/>
<text x="963.75" y="1668.2" font-size="12.6" fill="#ffffff" font-weight="400" text-anchor="start" textLength="14.6" lengthAdjust="spacingAndGlyphs" stroke="#ffffff" stroke-width="0.38" >Sit</text>
<text x="1038.25" y="1668.2" font-size="12.6" fill="#ffffff" font-weight="400" text-anchor="start" textLength="20.5" lengthAdjust="spacingAndGlyphs" stroke="#ffffff" stroke-width="0.38" >190</text>
<text x="1090.5" y="1668.2" font-size="10.5" fill="#9c3650" font-weight="400" text-anchor="end" >-67</text>
<polygon points="1093.3,1661.6 1099.7,1661.6 1096.5,1667.2" fill="#e0413c"/>
<text x="963.75" y="1693.6" font-size="12.6" fill="#ffffff" font-weight="400" text-anchor="start" textLength="30.9" lengthAdjust="spacingAndGlyphs" stroke="#ffffff" stroke-width="0.38" >Amet</text>
<text x="1038.25" y="1693.6" font-size="12.6" fill="#ffffff" font-weight="400" text-anchor="start" textLength="20.5" lengthAdjust="spacingAndGlyphs" stroke="#ffffff" stroke-width="0.38" >555</text>
<text x="1090.5" y="1693.6" font-size="10.5" fill="#2fa89e" font-weight="400" text-anchor="end" >+209</text>
<polygon points="1093.3,1692.2 1099.7,1692.2 1096.5,1686.6" fill="#22e6a6"/>
<text x="1151.75" y="1592" font-size="12.6" fill="#ffffff" font-weight="400" text-anchor="start" textLength="37.2" lengthAdjust="spacingAndGlyphs" stroke="#ffffff" stroke-width="0.38" >Lorem</text>
<text x="1226.25" y="1592" font-size="12.6" fill="#ffffff" font-weight="400" text-anchor="start" textLength="20.5" lengthAdjust="spacingAndGlyphs" stroke="#ffffff" stroke-width="0.38" >554</text>
<text x="1278" y="1592" font-size="10.5" fill="#2fa89e" font-weight="400" text-anchor="end" >+16</text>
<polygon points="1281.4,1590.6 1287.8,1590.6 1284.6,1585" fill="#22e6a6"/>
<text x="1151.75" y="1617.4" font-size="12.6" fill="#ffffff" font-weight="400" text-anchor="start" textLength="36.2" lengthAdjust="spacingAndGlyphs" stroke="#ffffff" stroke-width="0.38" >Ipsum</text>
<text x="1226.25" y="1617.4" font-size="12.6" fill="#ffffff" font-weight="400" text-anchor="start" textLength="20.5" lengthAdjust="spacingAndGlyphs" stroke="#ffffff" stroke-width="0.38" >553</text>
<text x="1278" y="1617.4" font-size="10.5" fill="#2fa89e" font-weight="400" text-anchor="end" >+72</text>
<polygon points="1281.4,1616 1287.8,1616 1284.6,1610.4" fill="#22e6a6"/>
<text x="1151.75" y="1642.8" font-size="12.6" fill="#ffffff" font-weight="400" text-anchor="start" textLength="32" lengthAdjust="spacingAndGlyphs" stroke="#ffffff" stroke-width="0.38" >Dolor</text>
<text x="1226.25" y="1642.8" font-size="12.6" fill="#ffffff" font-weight="400" text-anchor="start" textLength="20.5" lengthAdjust="spacingAndGlyphs" stroke="#ffffff" stroke-width="0.38" >151</text>
<text x="1278" y="1642.8" font-size="10.5" fill="#9c3650" font-weight="400" text-anchor="end" >-369</text>
<polygon points="1281.4,1636.2 1287.8,1636.2 1284.6,1641.8" fill="#e0413c"/>
<text x="1151.75" y="1668.2" font-size="12.6" fill="#ffffff" font-weight="400" text-anchor="start" textLength="14.6" lengthAdjust="spacingAndGlyphs" stroke="#ffffff" stroke-width="0.38" >Sit</text>
<text x="1226.25" y="1668.2" font-size="12.6" fill="#ffffff" font-weight="400" text-anchor="start" textLength="20.5" lengthAdjust="spacingAndGlyphs" stroke="#ffffff" stroke-width="0.38" >550</text>
<text x="1278" y="1668.2" font-size="10.5" fill="#2fa89e" font-weight="400" text-anchor="end" >+114</text>
<polygon points="1281.4,1666.8 1287.8,1666.8 1284.6,1661.2" fill="#22e6a6"/>
<text x="1151.75" y="1693.6" font-size="12.6" fill="#ffffff" font-weight="400" text-anchor="start" textLength="30.9" lengthAdjust="spacingAndGlyphs" stroke="#ffffff" stroke-width="0.38" >Amet</text>
<text x="1226.25" y="1693.6" font-size="12.6" fill="#ffffff" font-weight="400" text-anchor="start" textLength="20.5" lengthAdjust="spacingAndGlyphs" stroke="#ffffff" stroke-width="0.38" >416</text>
<text x="1278" y="1693.6" font-size="10.5" fill="#9c3650" font-weight="400" text-anchor="end" >-47</text>
<polygon points="1281.4,1687 1287.8,1687 1284.6,1692.6" fill="#e0413c"/>
<text x="1004" y="1734" font-size="8.4" fill="#3b306e" font-weight="400" text-anchor="start" >Lorem ipsum dolor sit amet, consectetuer</text>
<text x="1004" y="1744" font-size="8.4" fill="#3b306e" font-weight="400" text-anchor="start" >adipiscing elit, sed diam nonummy nibh</text>
<rect x="1176" y="1725" width="70.5" height="21.7" fill="#45388a"/>
<text x="1211.6" y="1740.5" font-size="13.5" fill="#ffffff" font-weight="400" text-anchor="middle" textLength="41.24" lengthAdjust="spacingAndGlyphs" stroke="#ffffff" stroke-width="0.4" >Submit</text>
<linearGradient id="gRawS" gradientUnits="userSpaceOnUse" x1="1560" y1="1005" x2="1560" y2="1300"><stop offset="0" stop-color="#fe6c6a"/><stop offset="0.55" stop-color="#fbab8a"/><stop offset="1" stop-color="#f7d29e"/></linearGradient>
<linearGradient id="gRawP" gradientUnits="userSpaceOnUse" x1="1600" y1="1010" x2="1690" y2="1290"><stop offset="0" stop-color="#7e32ac"/><stop offset="0.12" stop-color="#8e3cb6"/><stop offset="0.45" stop-color="#b24fc6"/><stop offset="0.8" stop-color="#a446bc"/><stop offset="1" stop-color="#7a2ca8"/></linearGradient>
<path d="M1660.09 1274.52 A138.5 138.5 0 1 1 1589.65 1014.37" fill="none" stroke="#fb9a80" stroke-opacity="0.55" stroke-width="30" filter="url(#glow2)"/>
<path d="M1660.09 1274.52 A138.5 138.5 0 1 1 1589.65 1014.37" fill="none" stroke="url(#gRawS)" stroke-width="29"/>
<path d="M1589.65 1014.37 A138.5 138.5 0 0 1 1660.09 1274.52" fill="none" stroke="url(#gRawP)" stroke-width="29"/>
<circle cx="1594" cy="1152.8" r="100.8" fill="none" stroke="#45388a" stroke-width="2"/>
<text x="1594.3" y="1147.4" font-size="27" fill="#ffffff" font-weight="700" text-anchor="middle" textLength="61.08" lengthAdjust="spacingAndGlyphs" >RAW</text>
<text x="1594.3" y="1179.4" font-size="27" fill="#ffffff" font-weight="700" text-anchor="middle" textLength="71.58" lengthAdjust="spacingAndGlyphs" >DATA</text>
<text x="1700.66" y="974.3" font-size="17" fill="#ffffff" font-weight="400" text-anchor="start" textLength="91.68" lengthAdjust="spacingAndGlyphs" >Lorem dolor</text>
<polyline points="1666.8,1030.2 1697.9,983.6 1792.6,983.6" fill="none" stroke="#ffffff" stroke-width="1.6"/>
<text x="1392.46" y="1310.4" font-size="17" fill="#ffffff" font-weight="400" text-anchor="start" textLength="89.18" lengthAdjust="spacingAndGlyphs" >Ipsum amet</text>
<polyline points="1517,1274.7 1486.6,1321.3 1394.4,1321.3" fill="none" stroke="#ffffff" stroke-width="1.6"/>
<text x="1539.53" y="1383.4" font-size="13.5" fill="#ffffff" font-weight="400" text-anchor="start" textLength="157.94" lengthAdjust="spacingAndGlyphs" >Lorem ipsum dolor sit amet,</text>
<text x="1539.53" y="1397.85" font-size="13.5" fill="#ffffff" font-weight="400" text-anchor="start" textLength="154.84" lengthAdjust="spacingAndGlyphs" >consectetuer adipiscing elit,</text>
<text x="1539.53" y="1412.3" font-size="13.5" fill="#ffffff" font-weight="400" text-anchor="start" textLength="143.34" lengthAdjust="spacingAndGlyphs" >sed diam nonummy nibh.</text>
<rect x="1735.5" y="1369.5" width="68" height="19.5" fill="none" stroke="#45388a" stroke-width="2"/>
<text x="1769.5" y="1384" font-size="13" fill="#ffffff" font-weight="400" text-anchor="middle" textLength="28.12" lengthAdjust="spacingAndGlyphs" stroke="#ffffff" stroke-width="0.39" >Print</text>
<rect x="1734.5" y="1400.5" width="70" height="21.2" fill="#45388a"/>
<text x="1769.5" y="1415.5" font-size="13" fill="#ffffff" font-weight="400" text-anchor="middle" textLength="46.82" lengthAdjust="spacingAndGlyphs" stroke="#ffffff" stroke-width="0.39" >Confirm</text>
<text x="1444.66" y="1559" font-size="16.9" fill="#ffffff" font-weight="400" text-anchor="start" textLength="98.88" lengthAdjust="spacingAndGlyphs" >Lorem ipsum</text>
<text x="1444.66" y="1624.7" font-size="16.9" fill="#ffffff" font-weight="400" text-anchor="start" textLength="142.48" lengthAdjust="spacingAndGlyphs" >Lorem ipsum dolor</text>
<text x="1444.66" y="1691" font-size="16.9" fill="#43377f" font-weight="400" text-anchor="start" textLength="98.88" lengthAdjust="spacingAndGlyphs" >Lorem ipsum</text>
<linearGradient id="gSeg1" gradientUnits="userSpaceOnUse" x1="1445" y1="0" x2="1648" y2="0"><stop offset="0" stop-color="#fd6868"/><stop offset="1" stop-color="#f6dba0"/></linearGradient>
<linearGradient id="gSeg2" gradientUnits="userSpaceOnUse" x1="1445" y1="0" x2="1756" y2="0"><stop offset="0" stop-color="#571a9c"/><stop offset="1" stop-color="#ba52c6"/></linearGradient>
<rect x="1445" y="1572.2" width="48.3" height="11.6" fill="url(#gSeg1)"/>
<rect x="1445" y="1638.5" width="48.3" height="11.4" fill="url(#gSeg2)"/>
<rect x="1445" y="1704.4" width="48.3" height="11.3" fill="#3f337f"/>
<rect x="1496.65" y="1572.2" width="48.3" height="11.6" fill="url(#gSeg1)"/>
<rect x="1496.65" y="1638.5" width="48.3" height="11.4" fill="url(#gSeg2)"/>
<rect x="1496.65" y="1704.4" width="48.3" height="11.3" fill="#3f337f"/>
<rect x="1548.3" y="1572.2" width="48.3" height="11.6" fill="url(#gSeg1)"/>
<rect x="1548.3" y="1638.5" width="48.3" height="11.4" fill="url(#gSeg2)"/>
<rect x="1548.3" y="1704.4" width="48.3" height="11.3" fill="#3f337f"/>
<rect x="1599.95" y="1572.2" width="48.3" height="11.6" fill="url(#gSeg1)"/>
<rect x="1599.95" y="1638.5" width="48.3" height="11.4" fill="url(#gSeg2)"/>
<rect x="1599.95" y="1704.4" width="48.3" height="11.3" fill="#3f337f"/>
<rect x="1651.6" y="1572.2" width="48.3" height="11.6" fill="#45388a"/>
<rect x="1651.6" y="1638.5" width="48.3" height="11.4" fill="url(#gSeg2)"/>
<rect x="1651.6" y="1704.4" width="48.3" height="11.3" fill="#3f337f"/>
<rect x="1703.25" y="1572.2" width="48.3" height="11.6" fill="#45388a"/>
<rect x="1703.25" y="1638.5" width="48.3" height="11.4" fill="url(#gSeg2)"/>
<rect x="1703.25" y="1704.4" width="48.3" height="11.3" fill="#3f337f"/>
<rect x="1754.9" y="1572.2" width="48.3" height="11.6" fill="#45388a"/>
<rect x="1754.9" y="1638.5" width="48.3" height="11.4" fill="#45388a"/>
<rect x="1754.9" y="1704.4" width="48.3" height="11.3" fill="#3f337f"/>
<rect x="1399.8" y="1610.2" width="3.3" height="20" rx="1.2" fill="#45388a"/>
<rect x="1399.8" y="1633.6" width="3.3" height="20.2" rx="1.2" fill="#45388a"/>
<rect x="1399.8" y="1657.3" width="3.3" height="20.7" rx="1.2" fill="#f98a6a"/>
</svg>
</body></html>
